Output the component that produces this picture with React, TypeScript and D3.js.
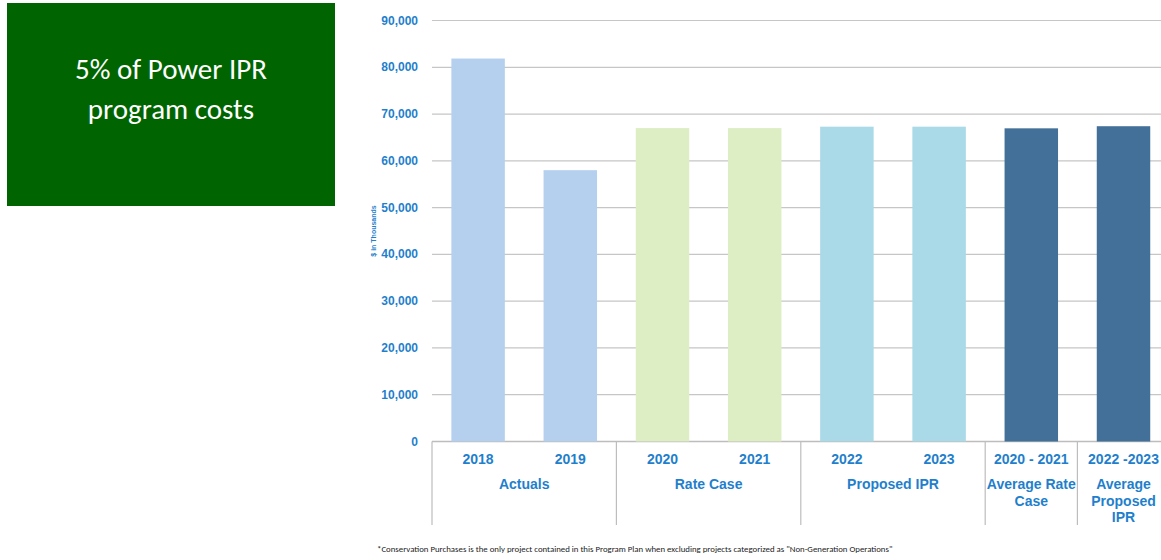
import React from "react";
import * as d3 from "d3";

const categories = ["2018", "2019", "2020", "2021", "2022", "2023", "2020 - 2021", "2022 -2023"];
const values = [81870, 58000, 67000, 67000, 67300, 67300, 66950, 67400];
const barColors = ["#B4D0EE", "#B4D0EE", "#DDEDC4", "#DDEDC4", "#AAD9E8", "#AAD9E8", "#437098", "#437098"];
const groups = [
  { lines: ["Actuals"], start: 0, end: 2 },
  { lines: ["Rate Case"], start: 2, end: 4 },
  { lines: ["Proposed IPR"], start: 4, end: 6 },
  { lines: ["Average Rate", "Case"], start: 6, end: 7 },
  { lines: ["Average", "Proposed", "IPR"], start: 7, end: 8 },
];
const yTicks = [0, 10000, 20000, 30000, 40000, 50000, 60000, 70000, 80000, 90000];
const yTitle = "$ in Thousands";
const boxLines = ["5% of Power IPR", "program costs"];
const footnote =
  '*Conservation Purchases is the only project contained in this Program Plan when excluding projects categorized as "Non-Generation Operations"';

export default function App() {
  const W = 1161;
  const H = 560;
  const left = 432;
  const step = 92.2;
  const right = left + step * categories.length;
  const x = d3.scaleBand<string>().domain(categories).range([left, right]).paddingInner(0.42).paddingOuter(0.21);
  const y = d3.scaleLinear().domain([0, 90000]).range([441.5, 20.5]);
  const fmt = d3.format(",");
  const blue = "#1F7FCC";
  const axisFont = "Arial, 'Liberation Sans', sans-serif";
  const sepBottom = 525;

  return (
    <svg width={W} height={H} style={{ position: "absolute", left: 0, top: 0 }}>
      <rect x={0} y={0} width={W} height={H} fill="#ffffff" />
      {/* green box */}
      <rect x={7} y={3} width={328} height={203} fill="#006400" />
      {boxLines.map((t, i) => (
        <text
          key={t}
          x={171}
          y={79 + i * 40}
          textAnchor="middle"
          fill="#ffffff"
          fontFamily="Carlito, 'Open Sans', sans-serif"
          fontSize={29}
        >
          {t}
        </text>
      ))}
      {/* gridlines */}
      {yTicks.map((t) => (
        <line
          key={t}
          x1={left}
          x2={right}
          y1={y(t)}
          y2={y(t)}
          stroke={t === 0 ? "#BDBDBD" : "#C6C6C6"}
          strokeWidth={t === 0 ? 1.5 : 1.2}
        />
      ))}
      {/* y tick labels */}
      {yTicks.map((t) => (
        <text
          key={"l" + t}
          x={418}
          y={y(t) + 4}
          textAnchor="end"
          fill={blue}
          fontFamily={axisFont}
          fontWeight="bold"
          fontSize={12}
        >
          {fmt(t)}
        </text>
      ))}
      <text
        transform={`translate(376,231) rotate(-90)`}
        textAnchor="middle"
        fill={blue}
        fontFamily={axisFont}
        fontWeight="bold"
        fontSize={7}
      >
        {yTitle}
      </text>
      {/* bars */}
      {categories.map((c, i) => (
        <rect
          key={c}
          x={x(c)}
          y={y(values[i])}
          width={x.bandwidth()}
          height={y(0) - y(values[i])}
          fill={barColors[i]}
        />
      ))}
      {/* separators */}
      {[0, 2, 4, 6, 7, 8].map((k) => (
        <line
          key={"s" + k}
          x1={left + k * step}
          x2={left + k * step}
          y1={y(0)}
          y2={sepBottom}
          stroke="#BDBDBD"
          strokeWidth={1.2}
        />
      ))}
      {/* category labels */}
      {categories.map((c) => (
        <text
          key={"c" + c}
          x={(x(c) as number) + x.bandwidth() / 2}
          y={464}
          textAnchor="middle"
          fill={blue}
          fontFamily={axisFont}
          fontWeight="bold"
          fontSize={14}
        >
          {c}
        </text>
      ))}
      {/* group labels */}
      {groups.map((g) => {
        const cx = left + ((g.start + g.end) / 2) * step;
        return (
          <text
            key={"g" + g.lines.join()}
            textAnchor="middle"
            fill={blue}
            fontFamily={axisFont}
            fontWeight="bold"
            fontSize={14}
          >
            {g.lines.map((ln, j) => (
              <tspan key={ln} x={cx} y={489 + j * 16.5}>
                {ln}
              </tspan>
            ))}
          </text>
        );
      })}
      <text x={377} y={552} fill="#222" fontFamily="Carlito, 'Open Sans', sans-serif" fontSize={8.8}>
        {footnote}
      </text>
    </svg>
  );
}
